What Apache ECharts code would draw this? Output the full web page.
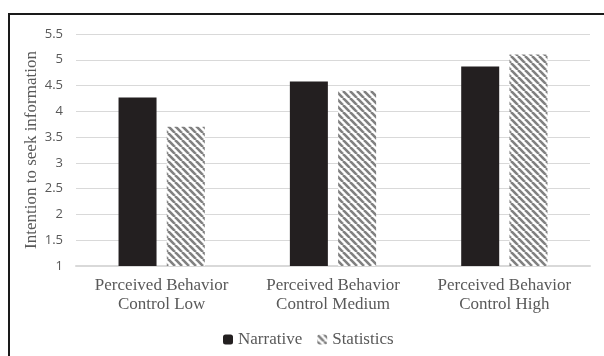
<!DOCTYPE html>
<html>
<head>
<meta charset="utf-8">
<script src="https://cdn.jsdelivr.net/npm/echarts@6/dist/echarts.min.js"></script>
<style>
  html, body { margin: 0; padding: 0; background: #fff; }
  #chart { width: 604px; height: 356px; }
</style>
</head>
<body>
<div id="chart"></div>
<script>
var categories = [
  "Perceived Behavior\nControl Low",
  "Perceived Behavior\nControl Medium",
  "Perceived Behavior\nControl High"
];
var narrative = [4.27, 4.58, 4.87];
var statistics = [3.7, 4.4, 5.1];
var yMin = 1, yMax = 5.5, yStep = 0.5;

// diagonal stripe fill for the statistics bars
function stripes() {
  var size = 7;
  var c = document.createElement("canvas");
  c.width = size;
  c.height = size;
  var ctx = c.getContext("2d");
  ctx.fillStyle = "#fff";
  ctx.fillRect(0, 0, size, size);
  ctx.strokeStyle = "#808080";
  ctx.lineWidth = 2.6;
  [-size, 0, size].forEach(function (o) {
    ctx.beginPath();
    ctx.moveTo(o, 0);
    ctx.lineTo(o + size, size);
    ctx.stroke();
  });
  return c;
}

var serif = "'Liberation Serif', 'DejaVu Serif', serif";
var myChart = echarts.init(document.getElementById("chart"));
myChart.setOption({
  animation: false,
  graphic: [
    {
      type: "rect",
      shape: { x: 9, y: 14, width: 700, height: 500 },
      style: { fill: "none", stroke: "#1a1a1a", lineWidth: 2 },
      silent: true
    }
  ],
  legend: {
    bottom: 3,
    left: 218,
    itemWidth: 10,
    itemHeight: 10,
    itemGap: 15,
    textStyle: { fontFamily: serif, fontSize: 17, color: "#595959" },
    data: ["Narrative", "Statistics"]
  },
  grid: { left: 76, right: 14, top: 34, bottom: 90 },
  xAxis: {
    type: "category",
    data: categories,
    axisTick: { show: false },
    axisLine: { lineStyle: { color: "#d9d9d9", width: 2 } },
    axisLabel: {
      interval: 0,
      hideOverlap: false,
      fontFamily: serif,
      fontSize: 17,
      color: "#595959",
      lineHeight: 19,
      margin: 10
    }
  },
  yAxis: {
    type: "value",
    min: yMin,
    max: yMax,
    interval: yStep,
    name: "Intention to seek information",
    nameLocation: "middle",
    nameGap: 36,
    nameMoveOverlap: false,
    nameTextStyle: { fontFamily: serif, fontSize: 17, color: "#595959" },
    axisLine: { show: false },
    axisTick: { show: false },
    splitLine: { lineStyle: { color: "#d9d9d9" } },
    axisLabel: {
      fontFamily: "'Open Sans', sans-serif",
      fontSize: 13,
      color: "#595959",
      margin: 13
    }
  },
  series: [
    {
      name: "Narrative",
      type: "bar",
      data: narrative,
      barWidth: 38,
      barGap: "27%",
      itemStyle: { color: "#231f20" }
    },
    {
      name: "Statistics",
      type: "bar",
      data: statistics,
      barWidth: 38,
      itemStyle: { color: { image: stripes(), repeat: "repeat" } }
    }
  ]
});
</script>
</body>
</html>
